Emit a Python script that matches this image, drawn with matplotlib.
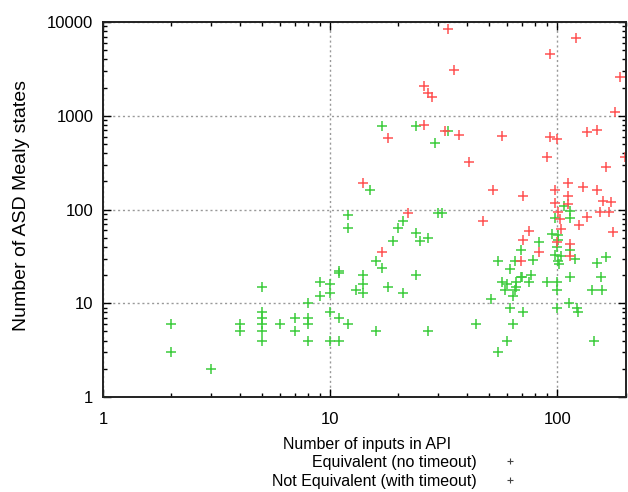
import matplotlib
matplotlib.use("Agg")
import matplotlib.pyplot as plt
from matplotlib.lines import Line2D

plt.rcParams['font.family'] = ['Liberation Sans', 'DejaVu Sans']

# Equivalent (no timeout)
eq_x = [1, 2, 2, 3, 4, 4, 5, 5, 5, 5, 5, 5, 6, 7, 7, 8, 8, 8, 8, 9, 9,
        10, 10, 10, 10, 11, 11, 11, 11, 12, 12, 12, 13, 14, 14, 14, 15,
        16, 16, 17, 17, 18, 19, 20, 21, 21, 24, 24, 24, 25, 27, 27, 29,
        30, 31, 33, 44, 51, 55, 55, 57, 59, 60, 60, 62, 62, 64, 64, 65, 65,
        66, 66, 69, 69, 70, 71, 75, 77, 78, 83, 90, 95, 98, 98, 100, 100,
        100, 100, 101, 101, 101, 102, 104, 107, 113, 114, 114, 114, 114,
        120, 122, 123, 143, 146, 150, 156, 158, 164]
eq_y = [1, 6, 3, 2, 6, 5, 15, 8, 7, 6, 5, 4, 6, 7, 5, 10, 7, 6, 4, 17, 12,
        16, 13, 8, 4, 21, 22, 7, 4, 87, 63, 6, 14, 20, 16, 13, 160,
        28, 5, 780, 24, 15, 46, 63, 75, 13, 780, 56, 20, 46, 50, 5, 510,
        92, 92, 680, 6, 11, 28, 3, 17, 14, 16, 4, 23, 9, 12, 6, 28, 14,
        17, 15, 37, 19, 19, 8, 17, 20, 29, 45, 17, 55, 81, 33, 40, 17,
        14, 9, 53, 47, 28, 26, 32, 108, 10, 96, 81, 37, 19,
        30, 9, 8, 14, 4, 27, 19, 14, 31]

# Not Equivalent (with timeout)
neq_x = [14, 17, 18, 22, 26, 27, 28, 26, 32, 33, 35, 37, 41, 47, 52, 57,
         69, 71, 71, 75, 83, 90, 93, 93, 98, 98, 100, 100, 101, 103, 104,
         112, 112, 112, 114, 114, 121, 125, 130, 135, 135, 150, 150, 155,
         160, 164, 169, 173, 176, 180, 190, 199]
neq_y = [190, 35, 580, 92, 2100, 1750, 1600, 790, 680, 8400, 3100, 620, 320,
         75, 160, 610, 28, 140, 47, 59, 35, 360, 4600, 590, 160, 117, 560,
         45, 94, 79, 62, 190, 140, 114, 43, 32, 6700, 68, 175, 83, 670,
         160, 700, 94, 123, 284, 94, 120, 58, 1100, 2600, 360]

x_ticks = [1, 10, 100]
y_ticks = [1, 10, 100, 1000, 10000]

fig = plt.figure(figsize=(6.28, 4.92), dpi=100)
ax = fig.add_axes([103 / 628, 1 - 397 / 492, 522.5 / 628, 375 / 492])

ax.plot(eq_x, eq_y, '+', color='#3ccc3c', markersize=7, mew=1.1, linestyle='none')
ax.plot(neq_x, neq_y, '+', color='#ff5252', markersize=7, mew=1.1, linestyle='none')

ax.set_xscale('log')
ax.set_yscale('log')
ax.set_xlim(1, 200)
ax.set_ylim(1, 10000)
ax.set_xticks(x_ticks)
ax.set_xticklabels([str(t) for t in x_ticks])
ax.set_yticks(y_ticks)
ax.set_yticklabels([str(t) for t in y_ticks])

ax.tick_params(which='both', direction='in', top=True, right=True, labelsize=12)
ax.tick_params(which='major', length=6, width=1)
ax.tick_params(which='minor', length=3, width=1)
ax.tick_params(axis='x', which='major', pad=11)
ax.tick_params(axis='y', which='major', pad=7)
for s in ax.spines.values():
    s.set_linewidth(1.4)
    s.set_color('#222222')

ax.grid(True, which='major', linestyle=(0, (1.5, 2)), color='#999999', linewidth=1)

fig.text(22 / 628, 1 - 205 / 492, 'Number of ASD Mealy states', rotation=90,
         ha='center', va='center', fontsize=14)
fig.text(367 / 628, 1 - 444 / 492, 'Number of inputs in API',
         ha='center', va='center', fontsize=11.5)

handles = [Line2D([], [], marker='+', color='#444444', linestyle='none', markersize=5, mew=0.8),
           Line2D([], [], marker='+', color='#444444', linestyle='none', markersize=5, mew=0.8)]
ax.legend(handles, ['Equivalent (no timeout)', 'Not Equivalent (with timeout)'],
          loc='upper right', bbox_to_anchor=(518 / 628, 1 - 455 / 492),
          bbox_transform=fig.transFigure, frameon=False, markerfirst=False,
          fontsize=11.5, handlelength=1, handletextpad=1.6, borderpad=0,
          borderaxespad=0, labelspacing=0.22)

fig.savefig('out.png', dpi=100)
